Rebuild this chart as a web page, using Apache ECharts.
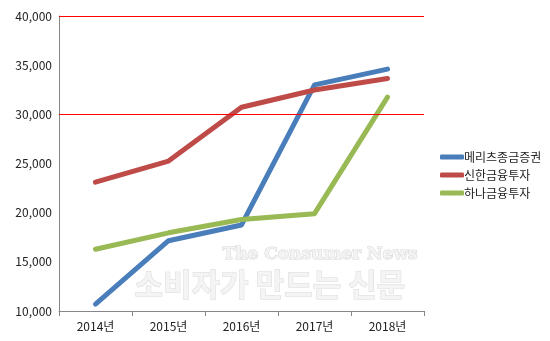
<!DOCTYPE html>
<html><head><meta charset="utf-8">
<script src="https://cdn.jsdelivr.net/npm/echarts@6/dist/echarts.min.js"></script>
<style>html,body{margin:0;padding:0;background:#fff}#c{width:550px;height:341px}</style>
</head><body><div id="c"></div>
<script>
const categories = ['2014년','2015년','2016년','2017년','2018년'];
const meritz = [10700, 17150, 18750, 33000, 34600];
const shinhan = [23100, 25250, 30720, 32480, 33650];
const hana = [16280, 17950, 19300, 19900, 31750];
const seriesNames = ['메리츠종금증권','신한금융투자','하나금융투자'];
const redLines = [30000, 40000];

const font = '"Noto Sans CJK KR", "Noto Sans", sans-serif';
const chart = echarts.init(document.getElementById('c'), null, {renderer:'canvas'});
chart.setOption({
  animation:false,
  textStyle:{fontFamily:font},
  grid:{left:59, right:126, top:16, bottom:30},
  legend:{
    orient:'vertical', left:435, top:146, itemGap:6,
    itemWidth:24, itemHeight:5,
    icon:'roundRect',
    textStyle:{fontFamily:font, fontSize:12, color:'#222', padding:[0,0,0,-5]},
    data:seriesNames
  },
  xAxis:{
    type:'category', data:categories, boundaryGap:true,
    axisLine:{lineStyle:{color:'#868686'}},
    axisTick:{show:true, length:5, lineStyle:{color:'#868686'}},
    axisLabel:{color:'#222', fontSize:12, margin:9, fontFamily:font},
  },
  yAxis:{
    type:'value', min:10000, max:40000, interval:5000,
    axisLine:{show:true, lineStyle:{color:'#868686'}},
    axisTick:{show:false},
    axisLabel:{color:'#222', fontSize:12, margin:7, fontFamily:font,
      formatter:v=>v.toLocaleString('en-US')},
    splitLine:{show:false}
  },
  graphic:[
    {type:'text', left:222, top:246, z:1, style:{text:'The Consumer News', font:'bold 17px "DejaVu Serif", serif', fill:'#f4f4f4', stroke:'#d6d6d6', lineWidth:1}},
    {type:'text', left:134, top:268, z:1, style:{text:'소비자가 만드는 신문', font:'bold 31px "Noto Sans CJK KR", sans-serif', fill:'#f4f4f4', stroke:'#d9d9d9', lineWidth:1}}
  ],
  series:[
    {name:seriesNames[0], type:'line', data:meritz, symbol:'none', z:3,
     lineStyle:{width:5, color:'#4a7ebb', cap:'round', join:'round'}, itemStyle:{color:'#4a7ebb'},
     markLine:{silent:true, symbol:'none', label:{show:false}, lineStyle:{color:'#ff0000', width:1.2, type:'solid'},
       data:redLines.map(v=>({yAxis:v}))}},
    {name:seriesNames[1], type:'line', data:shinhan, symbol:'none', z:3,
     lineStyle:{width:5, color:'#be4b48', cap:'round', join:'round'}, itemStyle:{color:'#be4b48'}},
    {name:seriesNames[2], type:'line', data:hana, symbol:'none', z:3,
     lineStyle:{width:5, color:'#98b954', cap:'round', join:'round'}, itemStyle:{color:'#98b954'}}
  ]
});
</script></body></html>
